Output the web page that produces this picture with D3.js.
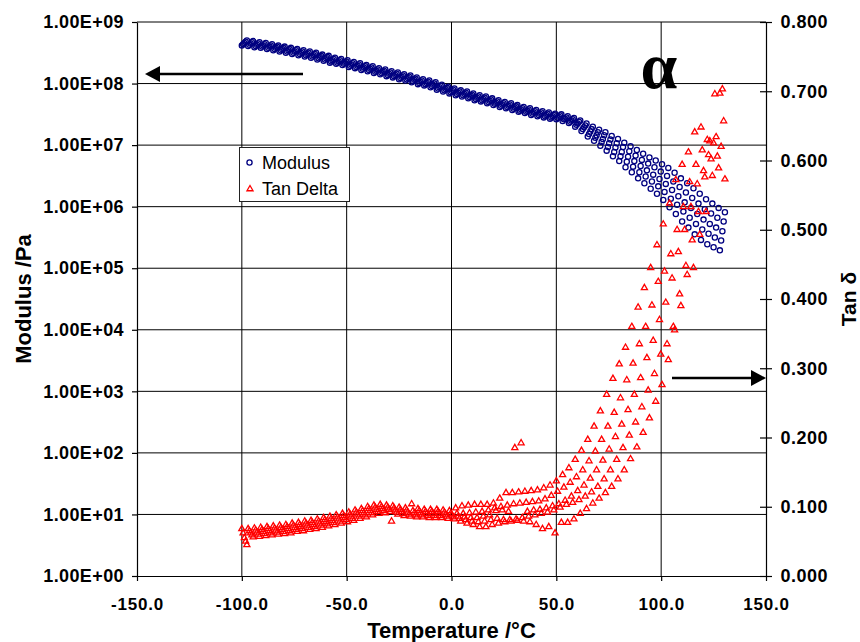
<!DOCTYPE html>
<html>
<head>
<meta charset="utf-8">
<script src="https://cdn.jsdelivr.net/npm/d3@7"></script>
<style>
  body { margin: 0; background: #fff; }
  svg { display: block; font-family: "Liberation Sans", Arial, sans-serif; }
  .axis text { font-family: "Liberation Sans", Arial, sans-serif; font-weight: bold; fill: #000; }
  .axis.left text { font-size: 18px; letter-spacing: 0.4px; }
  .axis.bottom text { font-size: 17px; letter-spacing: 0.8px; }
  .axis.right text { font-size: 18px; letter-spacing: 0.5px; }
  .axis line, .axis path { stroke: #000; stroke-width: 1.2; }
  .grid line { stroke: #000; stroke-width: 1; }
  .title { font-weight: bold; font-size: 22px; fill: #000; }
  .legend text { font-size: 18px; fill: #000; }
</style>
</head>
<body>
<div id="chart"></div>
<script>
// temperature at the start of each frequency sweep (°C)
var temps = [
  -100, -97, -94, -91, -88, -85, -82, -79, -76, -73,
  -70, -67, -64, -61, -58, -55, -52, -49, -46, -43,
  -40, -37, -34, -31, -28, -25, -22, -19, -16, -13,
  -10, -7, -4, -1, 2, 5, 8, 11, 14, 17,
  20, 23, 26, 29, 32, 35, 38, 41, 44, 47,
  50, 53, 56, 59, 62, 65, 68, 71, 74, 77,
  80, 83, 86, 89, 92, 95, 98, 101, 104, 107,
  110, 113, 116, 119, 122, 125, 128
];

// each sweep runs through 5 frequencies, so each one lags the sweep start a bit (°C)
var sweepOffsets = [0, 0.6, 1.2, 1.8, 2.4];

// log10 of modulus (Pa), one list per frequency (lowest frequency first)
var modLog1 = [
  8.62, 8.61, 8.59, 8.58, 8.56, 8.54, 8.52, 8.50, 8.48, 8.46,
  8.44, 8.42, 8.39, 8.37, 8.34, 8.32, 8.30, 8.27, 8.25, 8.22,
  8.20, 8.17, 8.15, 8.12, 8.10, 8.07, 8.05, 8.02, 7.99, 7.97,
  7.94, 7.90, 7.87, 7.84, 7.81, 7.79, 7.76, 7.73, 7.71, 7.68,
  7.65, 7.62, 7.60, 7.57, 7.54, 7.52, 7.49, 7.47, 7.45, 7.43,
  7.42, 7.39, 7.36, 7.30, 7.23, 7.14, 7.07, 6.99, 6.91, 6.82,
  6.74, 6.64, 6.56, 6.46, 6.38, 6.29, 6.21, 6.11, 5.99, 5.88,
  5.76, 5.66, 5.55, 5.46, 5.39, 5.34, 5.29
];
var modLog2 = [
  8.64, 8.63, 8.61, 8.60, 8.58, 8.56, 8.54, 8.52, 8.50, 8.48,
  8.46, 8.44, 8.41, 8.39, 8.36, 8.34, 8.32, 8.29, 8.27, 8.24,
  8.22, 8.19, 8.17, 8.14, 8.12, 8.09, 8.07, 8.04, 8.01, 7.99,
  7.96, 7.92, 7.89, 7.86, 7.83, 7.81, 7.78, 7.75, 7.73, 7.70,
  7.67, 7.64, 7.62, 7.59, 7.56, 7.54, 7.51, 7.49, 7.47, 7.45,
  7.44, 7.42, 7.38, 7.33, 7.26, 7.18, 7.12, 7.05, 6.97, 6.89,
  6.82, 6.73, 6.65, 6.56, 6.49, 6.41, 6.33, 6.24, 6.13, 6.03,
  5.92, 5.82, 5.72, 5.63, 5.56, 5.50, 5.45
];
var modLog3 = [
  8.66, 8.65, 8.63, 8.62, 8.60, 8.58, 8.56, 8.54, 8.52, 8.50,
  8.48, 8.46, 8.43, 8.41, 8.38, 8.36, 8.34, 8.31, 8.29, 8.26,
  8.24, 8.21, 8.19, 8.16, 8.14, 8.11, 8.09, 8.06, 8.03, 8.01,
  7.98, 7.94, 7.91, 7.88, 7.85, 7.83, 7.80, 7.77, 7.75, 7.72,
  7.69, 7.66, 7.64, 7.61, 7.58, 7.56, 7.53, 7.51, 7.49, 7.47,
  7.46, 7.43, 7.40, 7.35, 7.29, 7.22, 7.16, 7.10, 7.03, 6.96,
  6.89, 6.81, 6.74, 6.66, 6.59, 6.52, 6.45, 6.37, 6.27, 6.17,
  6.07, 5.98, 5.88, 5.79, 5.72, 5.66, 5.60
];
var modLog4 = [
  8.68, 8.67, 8.65, 8.64, 8.62, 8.60, 8.58, 8.56, 8.54, 8.52,
  8.50, 8.48, 8.45, 8.43, 8.40, 8.38, 8.36, 8.33, 8.31, 8.28,
  8.26, 8.23, 8.21, 8.18, 8.16, 8.13, 8.11, 8.08, 8.05, 8.03,
  8.00, 7.96, 7.93, 7.90, 7.87, 7.85, 7.82, 7.79, 7.77, 7.74,
  7.71, 7.68, 7.66, 7.63, 7.60, 7.58, 7.55, 7.53, 7.51, 7.49,
  7.48, 7.45, 7.42, 7.38, 7.32, 7.26, 7.21, 7.16, 7.09, 7.03,
  6.97, 6.90, 6.83, 6.76, 6.70, 6.64, 6.57, 6.50, 6.41, 6.32,
  6.23, 6.14, 6.05, 5.96, 5.89, 5.82, 5.76
];
var modLog5 = [
  8.70, 8.69, 8.67, 8.66, 8.64, 8.62, 8.60, 8.58, 8.56, 8.54,
  8.52, 8.50, 8.47, 8.45, 8.42, 8.40, 8.38, 8.35, 8.33, 8.30,
  8.28, 8.25, 8.23, 8.20, 8.18, 8.15, 8.13, 8.10, 8.07, 8.05,
  8.02, 7.98, 7.95, 7.92, 7.89, 7.87, 7.84, 7.81, 7.79, 7.76,
  7.73, 7.70, 7.68, 7.65, 7.62, 7.60, 7.57, 7.55, 7.53, 7.51,
  7.50, 7.47, 7.44, 7.40, 7.35, 7.30, 7.25, 7.21, 7.15, 7.10,
  7.04, 6.98, 6.92, 6.86, 6.80, 6.75, 6.69, 6.63, 6.55, 6.46,
  6.38, 6.30, 6.21, 6.12, 6.05, 5.98, 5.91
];

// tan delta, one list per frequency (same order)
var tanDelta1 = [
  0.068, 0.068, 0.069, 0.070, 0.071, 0.072, 0.073, 0.074, 0.076, 0.077,
  0.079, 0.080, 0.082, 0.084, 0.086, 0.088, 0.090, 0.092, 0.095, 0.097,
  0.100, 0.102, 0.103, 0.102, 0.101, 0.099, 0.098, 0.104, 0.097, 0.096,
  0.096, 0.096, 0.095, 0.094, 0.098, 0.101, 0.102, 0.103, 0.103, 0.103,
  0.105, 0.112, 0.120, 0.120, 0.121, 0.122, 0.123, 0.124, 0.127, 0.131,
  0.137, 0.146, 0.156, 0.168, 0.181, 0.197, 0.216, 0.238, 0.262, 0.285,
  0.306, 0.330, 0.360, 0.388, 0.416, 0.445, 0.478, 0.508, 0.538, 0.572,
  0.594, 0.612, 0.641, 0.648, 0.630, 0.625, 0.697
];
var tanDelta2 = [
  0.062, 0.065, 0.066, 0.067, 0.068, 0.069, 0.070, 0.071, 0.073, 0.074,
  0.076, 0.077, 0.079, 0.081, 0.083, 0.085, 0.087, 0.089, 0.092, 0.094,
  0.097, 0.099, 0.100, 0.099, 0.098, 0.096, 0.095, 0.094, 0.094, 0.093,
  0.093, 0.093, 0.092, 0.090, 0.090, 0.090, 0.091, 0.092, 0.093, 0.095,
  0.098, 0.100, 0.102, 0.104, 0.105, 0.106, 0.107, 0.108, 0.111, 0.116,
  0.122, 0.128, 0.135, 0.143, 0.153, 0.166, 0.180, 0.197, 0.216, 0.236,
  0.257, 0.283, 0.307, 0.335, 0.360, 0.391, 0.425, 0.440, 0.465, 0.500,
  0.533, 0.569, 0.594, 0.615, 0.608, 0.696, 0.620
];
var tanDelta3 = [
  0.055, 0.062, 0.063, 0.064, 0.065, 0.066, 0.067, 0.068, 0.070, 0.071,
  0.073, 0.074, 0.076, 0.078, 0.080, 0.082, 0.084, 0.086, 0.089, 0.091,
  0.094, 0.096, 0.097, 0.096, 0.095, 0.093, 0.092, 0.091, 0.091, 0.090,
  0.090, 0.090, 0.089, 0.088, 0.086, 0.085, 0.084, 0.084, 0.086, 0.088,
  0.094, 0.095, 0.093, 0.185, 0.192, 0.093, 0.095, 0.096, 0.098, 0.101,
  0.104, 0.109, 0.115, 0.123, 0.131, 0.141, 0.153, 0.167, 0.183, 0.201,
  0.219, 0.240, 0.262, 0.286, 0.315, 0.340, 0.370, 0.395, 0.430, 0.468,
  0.500, 0.533, 0.566, 0.585, 0.628, 0.634, 0.703
];
var tanDelta4 = [
  0.050, 0.059, 0.060, 0.061, 0.062, 0.063, 0.064, 0.065, 0.067, 0.068,
  0.070, 0.071, 0.073, 0.075, 0.077, 0.079, 0.081, 0.083, 0.086, 0.088,
  0.091, 0.093, 0.094, 0.093, 0.092, 0.090, 0.089, 0.088, 0.088, 0.087,
  0.087, 0.087, 0.086, 0.085, 0.083, 0.081, 0.079, 0.078, 0.079, 0.081,
  0.083, 0.081, 0.081, 0.082, 0.084, 0.086, 0.088, 0.090, 0.092, 0.095,
  0.099, 0.103, 0.106, 0.110, 0.115, 0.121, 0.129, 0.140, 0.153, 0.168,
  0.185, 0.203, 0.222, 0.244, 0.268, 0.292, 0.320, 0.335, 0.360, 0.407,
  0.448, 0.485, 0.526, 0.576, 0.602, 0.606, 0.657
];
var tanDelta5 = [
  0.045, 0.056, 0.057, 0.058, 0.059, 0.060, 0.061, 0.062, 0.064, 0.065,
  0.067, 0.068, 0.070, 0.072, 0.074, 0.076, 0.078, 0.080, 0.083, 0.085,
  0.088, 0.090, 0.091, 0.079, 0.089, 0.087, 0.086, 0.085, 0.085, 0.084,
  0.084, 0.084, 0.083, 0.082, 0.079, 0.076, 0.074, 0.071, 0.071, 0.074,
  0.076, 0.078, 0.079, 0.080, 0.079, 0.078, 0.074, 0.068, 0.071, 0.062,
  0.077, 0.077, 0.082, 0.090, 0.097, 0.105, 0.112, 0.120, 0.129, 0.140,
  0.153, 0.169, 0.186, 0.207, 0.228, 0.252, 0.276, 0.312, 0.355, 0.390,
  0.435, 0.445, 0.493, 0.526, 0.578, 0.589, 0.573
];

// axis ticks
var xTicks = [-150, -100, -50, 0, 50, 100, 150];
var modTicks = [1e0, 1e1, 1e2, 1e3, 1e4, 1e5, 1e6, 1e7, 1e8, 1e9];
var tanTicks = [0, 0.1, 0.2, 0.3, 0.4, 0.5, 0.6, 0.7, 0.8];
var legendItems = ["Modulus", "Tan Delta"];

var modSeries = [modLog1, modLog2, modLog3, modLog4, modLog5];
var tanSeries = [tanDelta1, tanDelta2, tanDelta3, tanDelta4, tanDelta5];

// one row per measured point
var points = [];
modSeries.forEach(function(series, f) {
  series.forEach(function(v, i) {
    points.push({
      temp: temps[i] + sweepOffsets[f],
      modulus: Math.pow(10, v),
      tan: tanSeries[f][i]
    });
  });
});

var width = 860, height = 642;
// note: "top" is taken by window.top, so use other names
var plotLeft = 137, plotTop = 22;
var plotW = 629, plotH = 554;

var svg = d3.select("#chart").append("svg")
    .attr("width", width)
    .attr("height", height);

var g = svg.append("g").attr("transform", "translate(" + plotLeft + "," + plotTop + ")");

var x = d3.scaleLinear().domain([-150, 150]).range([0, plotW]);
var yMod = d3.scaleLog().domain([1, 1e9]).range([plotH, 0]);
var yTan = d3.scaleLinear().domain([0, 0.8]).range([plotH, 0]);

// gridlines (decades of the modulus axis, temperature ticks)
var grid = g.append("g").attr("class", "grid");
grid.selectAll("line.h")
    .data(modTicks.slice(1))
  .enter().append("line")
    .attr("class", "h")
    .attr("x1", 0).attr("x2", plotW)
    .attr("y1", function(d) { return yMod(d); })
    .attr("y2", function(d) { return yMod(d); });
grid.selectAll("line.v")
    .data(xTicks.slice(1, -1))
  .enter().append("line")
    .attr("class", "v")
    .attr("y1", 0).attr("y2", plotH)
    .attr("x1", function(d) { return x(d); })
    .attr("x2", function(d) { return x(d); });

// axes
function sciLabel(v) {
  var e = Math.round(Math.log10(v));
  return "1.00E+" + (e < 10 ? "0" + e : e);
}

g.append("g")
    .attr("class", "axis left")
    .call(d3.axisLeft(yMod).tickValues(modTicks).tickFormat(sciLabel)
      .tickSize(5).tickPadding(8).tickSizeOuter(0));

g.append("g")
    .attr("class", "axis bottom")
    .attr("transform", "translate(0," + plotH + ")")
    .call(d3.axisBottom(x).tickValues(xTicks).tickFormat(function(d) { return d.toFixed(1); })
      .tickSize(5).tickPadding(17).tickSizeOuter(0));

var rightAxis = g.append("g")
    .attr("class", "axis right")
    .attr("transform", "translate(" + plotW + ",0)")
    .call(d3.axisRight(yTan).tickValues(tanTicks).tickFormat(function(d) { return d.toFixed(3); })
      .tickSize(6).tickPadding(8.5).tickSizeOuter(0));
// right ticks cross the axis line
rightAxis.selectAll(".tick line").attr("x1", -6);

// modulus markers
g.append("g").selectAll("circle")
    .data(points)
  .enter().append("circle")
    .attr("cx", function(d) { return x(d.temp); })
    .attr("cy", function(d) { return yMod(d.modulus); })
    .attr("r", 2.6)
    .attr("fill", "none")
    .attr("stroke", "#000080")
    .attr("stroke-width", 1.3);

// tan delta markers, drawn on top
var tri = d3.symbol().type(d3.symbolTriangle).size(16);
g.append("g").selectAll("path")
    .data(points)
  .enter().append("path")
    .attr("d", tri)
    .attr("transform", function(d) { return "translate(" + x(d.temp) + "," + yTan(d.tan) + ")"; })
    .attr("fill", "none")
    .attr("stroke", "#ff0000")
    .attr("stroke-width", 1.3);

// legend
var legend = svg.append("g").attr("class", "legend");
legend.append("rect")
    .attr("x", 239.5).attr("y", 147.5)
    .attr("width", 110).attr("height", 54)
    .attr("fill", "#fff")
    .attr("stroke", "#222")
    .attr("stroke-width", 1);
legend.append("circle")
    .attr("cx", 249.5).attr("cy", 162.5).attr("r", 2.6)
    .attr("fill", "none").attr("stroke", "#000080").attr("stroke-width", 1.3);
legend.append("path")
    .attr("d", tri)
    .attr("transform", "translate(250,189)")
    .attr("fill", "none").attr("stroke", "#ff0000").attr("stroke-width", 1.3);
legend.selectAll("text")
    .data(legendItems)
  .enter().append("text")
    .attr("x", 262)
    .attr("y", function(d, i) { return 168.5 + i * 26.5; })
    .text(function(d) { return d; });

// axis titles
svg.append("text")
    .attr("class", "title")
    .attr("transform", "translate(31," + (plotTop + plotH / 2) + ") rotate(-90)")
    .attr("text-anchor", "middle")
    .text("Modulus /Pa");
svg.append("text")
    .attr("class", "title")
    .attr("transform", "translate(856," + (plotTop + plotH / 2) + ") rotate(-90)")
    .attr("text-anchor", "middle")
    .style("font-size", "21px")
    .text("Tan δ");
svg.append("text")
    .attr("class", "title")
    .attr("x", plotLeft + plotW / 2)
    .attr("y", 638)
    .attr("text-anchor", "middle")
    .text("Temperature /°C");

// arrows pointing at the axis each series belongs to
svg.append("line")
    .attr("x1", 303).attr("x2", 158).attr("y1", 74).attr("y2", 74)
    .attr("stroke", "#000").attr("stroke-width", 2.5);
svg.append("path")
    .attr("d", "M145,74L160,66L160,82Z")
    .attr("fill", "#000");
svg.append("line")
    .attr("x1", 672).attr("x2", 753).attr("y1", 378).attr("y2", 378)
    .attr("stroke", "#000").attr("stroke-width", 2.5);
svg.append("path")
    .attr("d", "M766,378L751,370L751,386Z")
    .attr("fill", "#000");

// alpha transition label
svg.append("text")
    .attr("x", 659)
    .attr("y", 88)
    .attr("text-anchor", "middle")
    .style("font-family", "'Liberation Serif', 'Times New Roman', serif")
    .style("font-weight", "bold")
    .style("font-size", "66px")
    .text("α");
</script>
</body>
</html>
